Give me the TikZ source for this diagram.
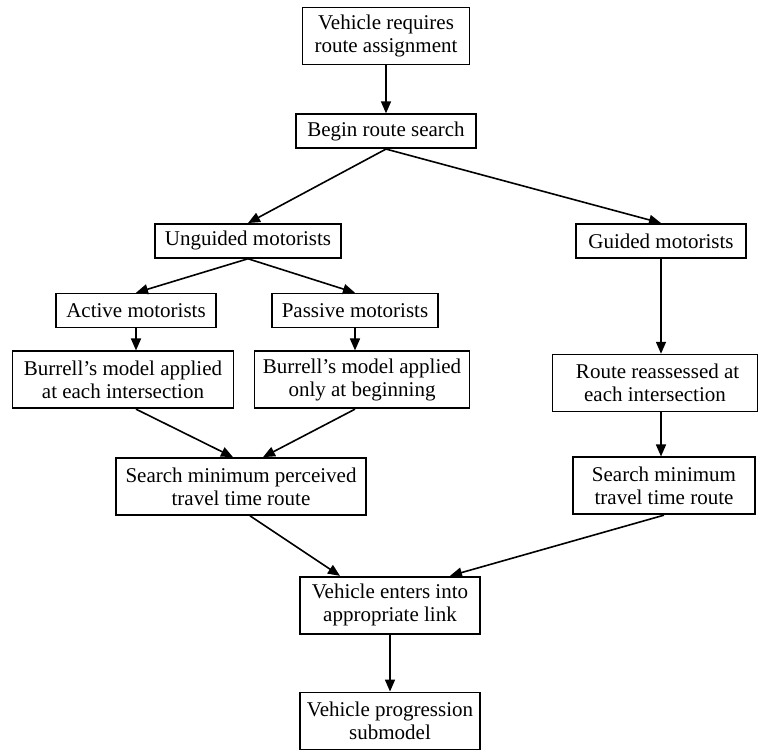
\documentclass[tikz,border=0pt]{standalone}
\usepackage{fontspec}
\setmainfont{Liberation Serif}
\usetikzlibrary{positioning, arrows.meta}

\begin{document}
\begin{tikzpicture}[x=1pt, y=1pt,
	box/.style={draw, line width=1.7pt, align=center, inner xsep=5pt, inner ysep=1pt, font=\fontsize{21}{23}\selectfont, minimum height=34pt},
	tallbox/.style={box, minimum height=57pt},
	flow/.style={line width=1.6pt, -{Triangle[length=12pt,width=10pt]}}]
	\useasboundingbox (0,0) rectangle (759,-750);
	\node[tallbox, minimum width=167pt] (req) at (386,-36) {Vehicle requires\\route assignment};
	\node[box, minimum width=180pt, below=48pt of req] (begin) {Begin route search};
	\node[box, minimum width=186pt, below=74pt of begin, xshift=-138pt] (unguided) {Unguided motorists};
	\node[box, minimum width=170pt, below=74pt of begin, xshift=275pt] (guided) {Guided motorists};
	\node[box, minimum width=160pt, below=34pt of unguided, xshift=-112pt] (active) {Active motorists};
	\node[box, minimum width=166pt, below=34pt of unguided, xshift=107pt] (passive) {Passive motorists};
	\node[tallbox, minimum width=221pt, below=22pt of active, xshift=-13pt] (modelA) {Burrell's model applied\\at each intersection};
	\node[tallbox, minimum width=215pt, below=22pt of passive, xshift=7pt] (modelB) {Burrell's model applied\\only at beginning};
	\node[tallbox, minimum width=205pt, below=95pt of guided, xshift=-6pt] (reassess) {\ Route reassessed at\\each intersection};
	\node[tallbox, minimum width=250pt, below=48pt of modelA, xshift=118pt] (perceived) {Search minimum perceived\\travel time route};
	\node[tallbox, minimum width=182pt, below=44pt of reassess, xshift=9pt] (mintime) {Search minimum\\travel time route};
	\node[tallbox, minimum width=180pt, below=60pt of perceived, xshift=149pt] (enters) {Vehicle enters into\\appropriate link};
	\node[tallbox, minimum width=180pt, below=57pt of enters] (progress) {Vehicle progression\\submodel};
	\draw[flow] (req) -- (begin);
	\draw[flow] (begin.south) -- (unguided.north);
	\draw[flow] (begin.south) -- (guided.north);
	\draw[flow] (unguided.south) -- (active.north);
	\draw[flow] (unguided.south) -- (passive.north);
	\draw[flow] (active.south) -- (active.south |- modelA.north);
	\draw[flow] (passive.south) -- (passive.south |- modelB.north);
	\draw[flow] (guided.south) -- (guided.south |- reassess.north);
	\draw[flow] (modelA.south -| active) -- ([xshift=-8pt]perceived.north);
	\draw[flow] (modelB.south -| passive) -- ([xshift=22pt]perceived.north);
	\draw[flow] (reassess.south -| guided) -- (mintime.north -| guided);
	\draw[flow] ([xshift=9pt]perceived.south) -- ([xshift=-50pt]enters.north);
	\draw[flow] (mintime.south) -- ([xshift=60pt]enters.north);
	\draw[flow] (enters) -- (progress);
\end{tikzpicture}
\end{document}
